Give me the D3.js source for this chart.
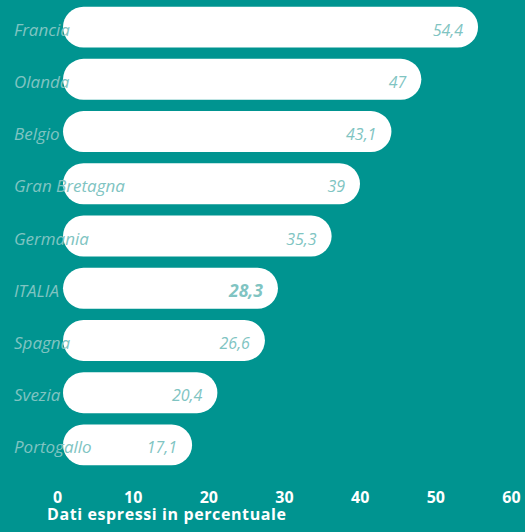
<!DOCTYPE html>
<html><head><meta charset="utf-8">
<script src="https://cdn.jsdelivr.net/npm/d3@7"></script>
<style>html,body{margin:0;padding:0;background:#009490;}svg{display:block;}</style>
</head><body>
<script>
const categories = ["Francia","Olanda","Belgio","Gran Bretagna","Germania","ITALIA","Spagna","Svezia","Portogallo"];
const values = [54.4,47,43.1,39,35.3,28.3,26.6,20.4,17.1];
const valueLabels = ["54,4","47","43,1","39","35,3","28,3","26,6","20,4","17,1"];
const ticks = [0,10,20,30,40,50,60];
const axisTitle = "Dati espressi in percentuale";
const highlight = "ITALIA";

const W = 525, H = 532;
const bg = "#009490", light = "#80c4c2";
const svg = d3.select("body").append("svg").attr("width", W).attr("height", H);
svg.append("rect").attr("width", W).attr("height", H).attr("fill", bg);

const x = d3.scaleLinear().domain([0,60]).range([61, 521]);
const xAxisScale = d3.scaleLinear().domain([0,60]).range([57, 511]);
const y = d3.scaleBand().domain(categories).range([1, 471]).paddingInner(0.216).paddingOuter(0.108);

const data = categories.map((c,i)=>({c, v: values[i], l: valueLabels[i]}));
const bh = y.bandwidth();

svg.append("g").selectAll("rect").data(data).join("rect")
  .attr("x", x(0) + 2).attr("y", d=>y(d.c))
  .attr("width", d=>x(d.v) - x(0) - 2).attr("height", bh)
  .attr("rx", bh/2).attr("ry", bh/2).attr("fill", "#fff");

svg.append("g").selectAll("text").data(data).join("text")
  .attr("x", 14).attr("y", d=>y(d.c)+bh/2 + 8.5)
  .attr("font-family", "'Open Sans', sans-serif").attr("font-style","italic")
  .attr("font-size", 17).attr("fill", light).text(d=>d.c);

svg.append("g").selectAll("text").data(data).join("text")
  .attr("x", d=>x(d.v) - 15).attr("y", d=>y(d.c)+bh/2 + 8.5)
  .attr("text-anchor","end")
  .attr("font-family", "'Open Sans', sans-serif").attr("font-style","italic")
  .attr("font-weight", d=>d.c===highlight?"bold":"normal")
  .attr("font-size", d=>d.c===highlight?17.5:16).attr("fill", light).text(d=>d.l);

const axis = d3.axisBottom(xAxisScale).tickValues(ticks).tickSize(0).tickPadding(0).tickFormat(d3.format("d"));
const gA = svg.append("g").attr("transform","translate(0,503)").call(axis);
gA.select(".domain").remove();
gA.selectAll("text").attr("fill","#fff").attr("font-family","'Open Sans', sans-serif")
  .attr("font-weight","bold").attr("font-size",16).attr("dy","0").attr("y",0);

svg.append("text").attr("x", 47).attr("y", 520)
  .attr("font-family","'Open Sans', sans-serif").attr("font-weight","bold")
  .attr("font-size",16).attr("letter-spacing",0.6).attr("fill","#fff").text(axisTitle);
</script>
</body></html>
